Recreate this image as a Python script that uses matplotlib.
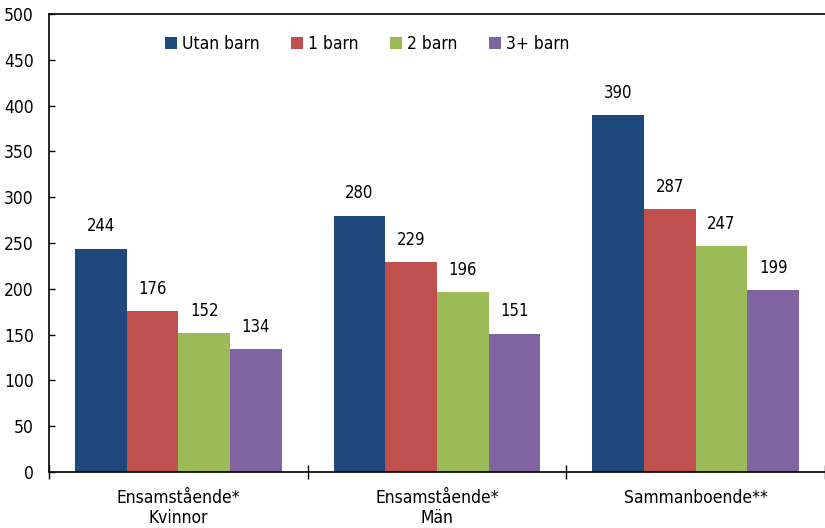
import numpy as np
import matplotlib.pyplot as plt

plt.rcParams['font.family'] = ['DejaVu Sans']
plt.rcParams['font.stretch'] = 'condensed'

# data
groups = ['Ensamstående*\nKvinnor', 'Ensamstående*\nMän', 'Sammanboende**']
series = ['Utan barn', '1 barn', '2 barn', '3+ barn']
utan_barn = [244, 280, 390]
ett_barn = [176, 229, 287]
tva_barn = [152, 196, 247]
tre_plus = [134, 151, 199]
colors = ['#1F497D', '#C0504D', '#9BBB59', '#8064A2']

values = [utan_barn, ett_barn, tva_barn, tre_plus]

fig = plt.figure(figsize=(8.25, 5.28), dpi=100)
ax = fig.add_axes([0.0594, 0.106, 0.9406, 0.8675])

x = np.arange(len(groups))
w = 0.2
for i, (name, vals) in enumerate(zip(series, values)):
    pos = x - 0.3 + i * w
    ax.bar(pos, vals, width=w, color=colors[i], label=name, zorder=2)
    for p, v in zip(pos, vals):
        ax.annotate(str(v), (p, v), xytext=(0, 16), textcoords='offset points',
                    ha='center', va='center', fontsize=12)

ax.set_xlim(-0.5, 2.5)
ax.set_ylim(0, 500)
ax.set_yticks(np.arange(0, 501, 50))
ax.tick_params(axis='y', direction='in', length=4, labelsize=12.5, width=1, pad=11)
ax.set_xticks([-0.5, 0.5, 1.5, 2.5])
ax.set_xticklabels([])
ax.tick_params(axis='x', direction='inout', length=10, width=1)
ax.set_xticks(x, minor=True)
ax.set_xticklabels(groups, minor=True, fontsize=12.5, linespacing=1.15)
ax.tick_params(axis='x', which='minor', length=0, pad=12)

ax.spines['right'].set_visible(False)
for s in ['left', 'top', 'bottom']:
    ax.spines[s].set_linewidth(1.2)

ax.legend(loc='center', bbox_to_anchor=(0.41, 0.935), ncol=4, frameon=False,
          fontsize=12.5, handlelength=0.7, handleheight=0.7, handletextpad=0.3,
          columnspacing=1.8)

fig.savefig('out.png', dpi=100)
